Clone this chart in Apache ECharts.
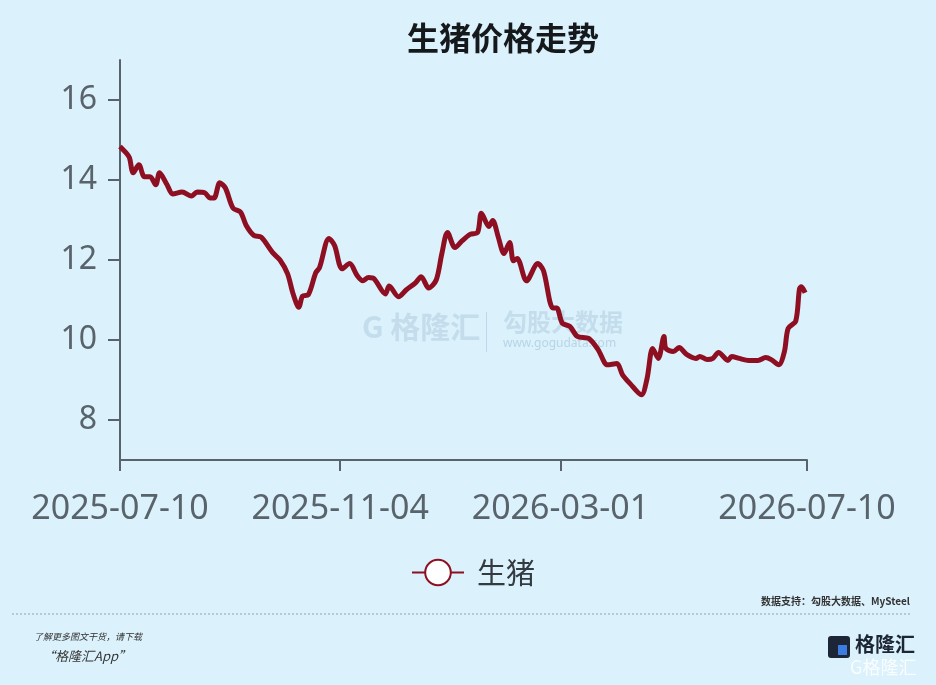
<!DOCTYPE html>
<html>
<head>
<meta charset="utf-8">
<script src="https://cdn.jsdelivr.net/npm/echarts@6/dist/echarts.min.js"></script>
<style>
	html, body { margin: 0; padding: 0; background: #dbf1fb; }
	#chart { width: 936px; height: 685px; }
</style>
</head>
<body>
<div id="chart"></div>
<script>
// 日期
const dates = [
	'2025-07-10', '2025-07-13', '2025-07-15', '2025-07-17', '2025-07-20', '2025-07-23', '2025-07-26', '2025-07-29', '2025-07-31',
	'2025-08-04', '2025-08-07', '2025-08-12', '2025-08-17', '2025-08-20', '2025-08-24', '2025-08-27', '2025-08-29',
	'2025-09-01', '2025-09-04', '2025-09-08', '2025-09-12', '2025-09-15', '2025-09-19', '2025-09-23', '2025-09-29',
	'2025-10-03', '2025-10-07', '2025-10-10', '2025-10-13', '2025-10-15', '2025-10-18', '2025-10-22', '2025-10-24', '2025-10-29',
	'2025-11-01', '2025-11-05', '2025-11-09', '2025-11-13', '2025-11-16', '2025-11-19', '2025-11-22', '2025-11-28', '2025-11-30',
	'2025-12-05', '2025-12-09', '2025-12-14', '2025-12-17', '2025-12-21', '2025-12-25', '2025-12-28', '2025-12-31',
	'2026-01-04', '2026-01-08', '2026-01-12', '2026-01-16', '2026-01-18', '2026-01-22', '2026-01-24', '2026-01-27', '2026-01-30',
	'2026-02-02', '2026-02-04', '2026-02-06', '2026-02-11', '2026-02-17', '2026-02-20', '2026-02-25', '2026-02-27',
	'2026-03-02', '2026-03-06', '2026-03-10', '2026-03-16', '2026-03-21', '2026-03-26', '2026-03-31',
	'2026-04-03', '2026-04-07', '2026-04-13', '2026-04-16', '2026-04-19', '2026-04-22', '2026-04-25', '2026-04-26', '2026-04-30',
	'2026-05-03', '2026-05-07', '2026-05-12', '2026-05-14', '2026-05-18', '2026-05-21', '2026-05-24', '2026-05-29', '2026-05-31',
	'2026-06-04', '2026-06-09', '2026-06-14', '2026-06-18', '2026-06-21', '2026-06-25', '2026-06-28', '2026-06-30',
	'2026-07-04', '2026-07-06', '2026-07-07', '2026-07-09'
]

// 生猪价格
const prices = [
	14.84, 14.69, 14.56, 14.18, 14.38, 14.08, 14.08, 13.88, 14.18,
	13.88, 13.65, 13.70, 13.60, 13.70, 13.68, 13.55, 13.55,
	13.93, 13.80, 13.30, 13.20, 12.87, 12.62, 12.57, 12.19,
	12.00, 11.66, 11.15, 10.82, 11.10, 11.13, 11.68, 11.81, 12.54,
	12.36, 11.78, 11.91, 11.61, 11.48, 11.56, 11.53, 11.15, 11.35,
	11.08, 11.25, 11.43, 11.58, 11.30, 11.50, 12.16, 12.69,
	12.31, 12.49, 12.64, 12.69, 13.17, 12.84, 12.99, 12.57, 12.16,
	12.44, 11.98, 12.04, 11.48, 11.91, 11.73, 10.80, 10.80,
	10.42, 10.34, 10.09, 10.04, 9.76, 9.38, 9.41,
	9.13, 8.91, 8.63, 9.03, 9.79, 9.54, 10.09, 9.79, 9.71,
	9.81, 9.64, 9.54, 9.59, 9.51, 9.54, 9.69, 9.49, 9.59,
	9.54, 9.49, 9.49, 9.56, 9.51, 9.38, 9.71, 10.29,
	10.47, 11.28, 11.33, 11.18
]

// 坐标轴刻度
const xTicks = ['2025-07-10', '2025-11-04', '2026-03-01', '2026-07-10']
const yTicks = [8, 10, 12, 14, 16]

const axisColor = '#59636b'
const lineColor = '#8e0f22'

const toTime = (d) => echarts.time.parse(d).getTime()
const xTickTimes = xTicks.map(toTime)

const chart = echarts.init(document.getElementById('chart'))

const option = {
	backgroundColor: '#dbf1fb',
	animation: false,
	textStyle: { fontFamily: 'Noto Sans, Noto Sans CJK SC, sans-serif' },
	grid: { left: 120, right: 129, top: 60, bottom: 225 },
	legend: {
		left: 406,
		top: 553,
		itemWidth: 52,
		itemHeight: 32,
		itemGap: 14,
		textStyle: { fontSize: 29, color: '#333a40', fontFamily: 'Noto Sans CJK SC', padding: [0, 0, 0, 8] },
		data: ['生猪']
	},
	xAxis: {
		type: 'value',
		min: xTickTimes[0],
		max: xTickTimes[xTickTimes.length - 1],
		axisLine: { lineStyle: { color: axisColor, width: 2 } },
		axisTick: {
			show: true,
			length: 11,
			lineStyle: { color: axisColor, width: 2 },
			customValues: xTickTimes
		},
		axisLabel: {
			customValues: xTickTimes,
			formatter: (v) => echarts.time.format(v, '{yyyy}-{MM}-{dd}'),
			fontSize: 34,
			color: axisColor,
			margin: 32,
			hideOverlap: false
		},
		splitLine: { show: false }
	},
	yAxis: {
		type: 'value',
		min: 7,
		max: 17,
		axisLine: { show: true, lineStyle: { color: axisColor, width: 2 } },
		axisTick: {
			show: true,
			length: 12,
			lineStyle: { color: axisColor, width: 2 },
			customValues: yTicks
		},
		axisLabel: {
			customValues: yTicks,
			fontSize: 32,
			color: axisColor,
			margin: 23
		},
		splitLine: { show: false }
	},
	series: [
		{
			name: '生猪',
			type: 'line',
			data: dates.map((d, i) => [toTime(d), prices[i]]),
			symbol: 'emptyCircle',
			symbolSize: 26,
			showSymbol: false,
			smooth: 0.3,
			lineStyle: { color: lineColor, width: 5 },
			itemStyle: { color: lineColor, borderWidth: 2 }
		}
	],
	graphic: [
		// 标题
		{
			type: 'text',
			left: 407,
			top: 22,
			style: {
				text: '生猪价格走势',
				font: 'bold 32px "Noto Sans CJK SC"',
				fill: '#15191c'
			}
		},
		// 水印
		{
			type: 'text',
			left: 362,
			top: 312,
			z: -1,
			style: { text: 'G 格隆汇', font: 'bold 30px "Noto Sans CJK SC"', fill: 'rgba(120,160,190,0.24)' }
		},
		{
			type: 'rect',
			left: 486,
			top: 312,
			z: -1,
			shape: { width: 1, height: 40 },
			style: { fill: 'rgba(120,160,190,0.3)' }
		},
		{
			type: 'text',
			left: 503,
			top: 310,
			z: -1,
			style: { text: '勾股大数据', font: 'bold 24px "Noto Sans CJK SC"', fill: 'rgba(120,160,190,0.24)' }
		},
		{
			type: 'text',
			left: 503,
			top: 338,
			z: -1,
			style: { text: 'www.gogudata.com', font: '12px "Noto Sans"', fill: 'rgba(120,160,190,0.35)' }
		},
		// 数据来源
		{
			type: 'text',
			right: 26,
			top: 596,
			style: { text: '数据支持：勾股大数据、MySteel', font: 'bold 10px "Noto Sans CJK SC"', fill: '#333' }
		},
		{
			type: 'line',
			shape: { x1: 12, y1: 614, x2: 910, y2: 614 },
			style: { stroke: '#9aa3a8', lineWidth: 1, lineDash: [2, 2] }
		},
		{
			type: 'text',
			left: 34,
			top: 632,
			style: { text: '了解更多图文干货，请下载', font: 'italic 9px "Noto Sans CJK SC"', fill: '#333' }
		},
		{
			type: 'text',
			left: 42,
			top: 650,
			style: { text: '“格隆汇App”', font: 'italic 13px "Noto Sans CJK SC"', fill: '#333' }
		},
		// 右下角标志
		{
			type: 'rect',
			left: 828,
			top: 636,
			shape: { width: 22, height: 22, r: 3 },
			style: { fill: '#1d2637' }
		},
		{
			type: 'rect',
			left: 838,
			top: 645,
			shape: { width: 9, height: 10 },
			style: { fill: '#3c7be0' }
		},
		{
			type: 'text',
			left: 855,
			top: 634,
			style: { text: '格隆汇', font: 'bold 20px "Noto Sans CJK SC"', fill: '#1d2637' }
		},
		{
			type: 'text',
			left: 850,
			top: 658,
			style: { text: 'G格隆汇', font: '18px "Noto Sans CJK SC"', fill: 'rgba(255,255,255,0.85)' }
		}
	]
}

chart.setOption(option)
</script>
</body>
</html>
